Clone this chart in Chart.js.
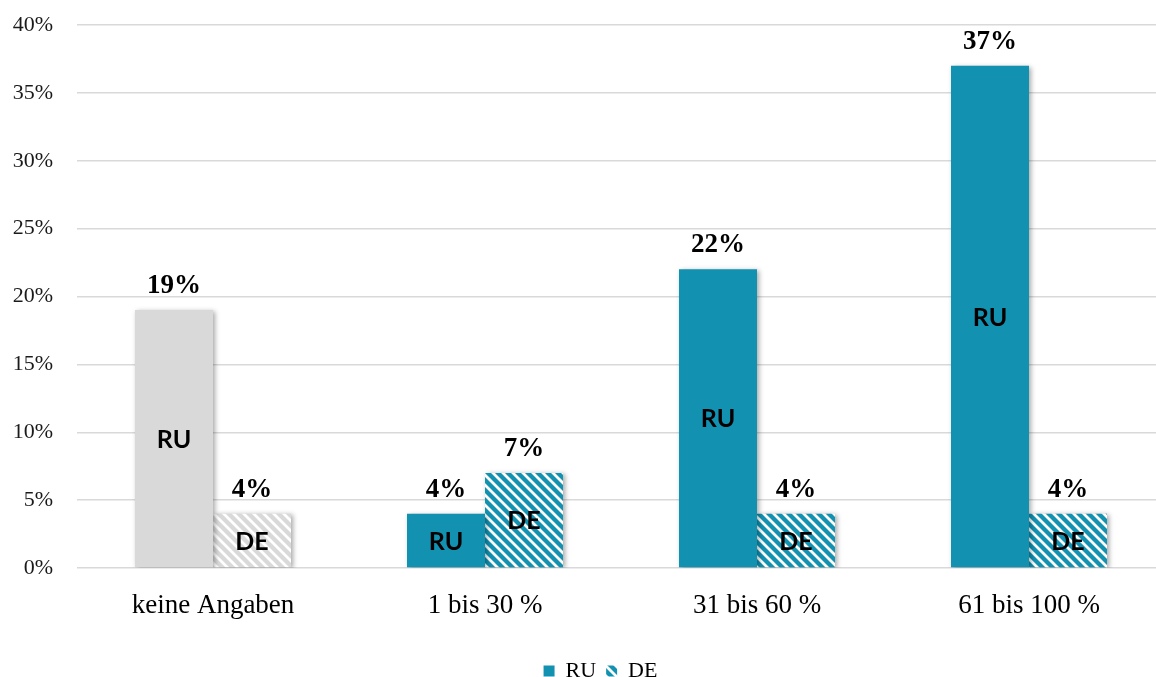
<!DOCTYPE html>
<html lang="de">
<head>
<meta charset="utf-8">
<title>RU / DE</title>
<script src="https://cdn.jsdelivr.net/npm/chart.js@4/dist/chart.umd.min.js"></script>
<style>
  html, body { margin: 0; padding: 0; background: #ffffff; overflow: hidden; width: 1156px; height: 677px; }
  canvas { display: block; }
</style>
</head>
<body>
<canvas id="chart" width="1165" height="700"></canvas>
<script>
// Data
const categories = ['keine Angaben', '1 bis 30 %', '31 bis 60 %', '61 bis 100 %'];
const ruValues = [19, 4, 22, 37];
const deValues = [4, 7, 4, 4];
const seriesNames = ['RU', 'DE'];
const yTickValues = [0, 5, 10, 15, 20, 25, 30, 35, 40];

// Styles
const TEAL = '#1291B1';
const GREY = '#D9D9D9';
const serif = "'Liberation Serif', 'Times New Roman', serif";
const sans = "Lato, 'Open Sans', sans-serif";

function stripes(color) {
  const s = 10;
  const c = document.createElement('canvas');
  c.width = s; c.height = s;
  const g = c.getContext('2d');
  g.fillStyle = color;
  g.fillRect(0, 0, s, s);
  g.strokeStyle = '#ffffff';
  g.lineWidth = 2.8;
  g.beginPath();
  for (let k = -1; k <= 1; k++) {
    g.moveTo(k * s - 1, -1);
    g.lineTo(k * s + s + 1, s + 1);
  }
  g.stroke();
  return g.createPattern(c, 'repeat');
}
const tealStripes = stripes(TEAL);
const greyStripes = stripes(GREY);

// first group is drawn in grey, the rest in teal
const ruColors = categories.map((_, i) => i === 0 ? GREY : TEAL);
const deColors = categories.map((_, i) => i === 0 ? greyStripes : tealStripes);

// soft drop shadow under the bars, then value / series labels
const barDecor = {
  id: 'barDecor',
  beforeDatasetsDraw(chart) {
    const ctx = chart.ctx;
    ctx.save();
    ctx.shadowColor = 'rgba(0,0,0,0.35)';
    ctx.shadowBlur = 5;
    ctx.shadowOffsetX = 2;
    ctx.shadowOffsetY = 1;
  },
  afterDatasetsDraw(chart) {
    const ctx = chart.ctx;
    ctx.restore();
    ctx.save();
    chart.data.datasets.forEach((ds, di) => {
      const meta = chart.getDatasetMeta(di);
      meta.data.forEach((bar, i) => {
        const v = ds.data[i];
        ctx.textAlign = 'center';
        ctx.fillStyle = '#000000';
        ctx.font = 'bold 27px ' + serif;
        ctx.textBaseline = 'alphabetic';
        ctx.fillText(v + '%', bar.x, bar.y - 17);
        ctx.font = 'bold 25px ' + sans;
        ctx.textBaseline = 'middle';
        ctx.fillText(ds.label, bar.x, (bar.y + bar.base) / 2 + 1);
      });
    });
    ctx.restore();
  }
};

// legend sits a little right of the canvas centre
const legendShift = {
  id: 'legendShift',
  afterLayout(chart) {
    const lg = chart.legend;
    if (lg) { lg.left += 18; lg.right += 18; }
  }
};

new Chart(document.getElementById('chart'), {
  type: 'bar',
  data: {
    labels: categories,
    datasets: [
      { label: seriesNames[0], data: ruValues, backgroundColor: ruColors, borderWidth: 0 },
      { label: seriesNames[1], data: deValues, backgroundColor: deColors, borderWidth: 0 }
    ]
  },
  options: {
    responsive: false,
    animation: false,
    devicePixelRatio: 1,
    categoryPercentage: 0.5735,
    barPercentage: 1,
    layout: { padding: { left: 0, right: 0, top: 25, bottom: 8 } },
    plugins: {
      tooltip: { enabled: false },
      legend: {
        position: 'bottom',
        labels: {
          boxWidth: 11,
          boxHeight: 11,
          padding: 10,
          color: '#000000',
          font: { family: serif, size: 22 },
          generateLabels: () => [
            { text: seriesNames[0], fillStyle: TEAL, strokeStyle: 'rgba(0,0,0,0)', lineWidth: 0, datasetIndex: 0 },
            { text: seriesNames[1], fillStyle: tealStripes, strokeStyle: 'rgba(0,0,0,0)', lineWidth: 0, datasetIndex: 1 }
          ]
        }
      }
    },
    scales: {
      x: {
        grid: { display: false },
        border: { display: false },
        ticks: { color: '#000000', padding: 14, font: { family: serif, size: 27 } },
        afterFit(scale) { scale.height = 82; }
      },
      y: {
        min: 0,
        max: 40,
        afterBuildTicks(scale) { scale.ticks = yTickValues.map(v => ({ value: v })); },
        grid: { color: '#D9D9D9', lineWidth: 1.5, drawTicks: true, tickLength: 20, tickColor: 'rgba(0,0,0,0)' },
        border: { display: false },
        ticks: {
          color: '#1a1a1a',
          padding: 4,
          font: { family: serif, size: 22 },
          callback: v => v + '%'
        },
        afterFit(scale) { scale.width = 77; }
      }
    }
  },
  plugins: [barDecor, legendShift]
});
</script>
</body>
</html>
